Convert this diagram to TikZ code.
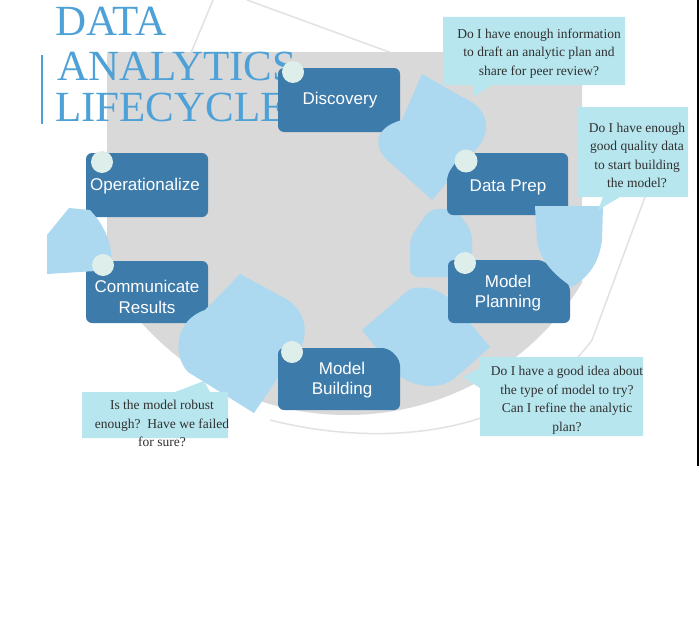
\documentclass[tikz,border=0pt]{standalone}
\usepackage{fontspec}
\setmainfont{Liberation Serif}
\newfontfamily\boxfont{Liberation Sans}
\definecolor{stageblue}{RGB}{61,123,171}
\definecolor{petalblue}{RGB}{172,216,240}
\definecolor{calloutcyan}{RGB}{184,230,238}
\definecolor{bggray}{RGB}{217,217,217}
\definecolor{titleblue}{RGB}{78,161,214}
\definecolor{dotcol}{RGB}{222,238,234}
\definecolor{faintgray}{RGB}{226,226,226}
\definecolor{qtext}{RGB}{48,48,48}
\tikzset{
  stagebox/.style={fill=stageblue, rounded corners=6pt},
  stagetext/.style={text=white, font=\boxfont\fontsize{17}{20.5}\selectfont, align=center, inner sep=0pt},
  petal/.style={fill=petalblue},
  callout/.style={fill=calloutcyan},
  qnote/.style={text=qtext, font=\fontsize{13.5}{18.5}\selectfont, align=center, inner sep=0pt},
  titletext/.style={text=titleblue, font=\fontsize{43}{43}\selectfont, anchor=base west, inner sep=0pt},
  dot/.style={fill=dotcol},
  faintline/.style={draw=faintgray, line width=1.5pt}
}
\begin{document}
\begin{tikzpicture}[x=1pt,y=-1pt]
\useasboundingbox (0,0) rectangle (700,618);
\fill[white] (0,0) rectangle (700,618);
% right black edge
\draw[black, line width=2pt] (698,0) -- (698,466);
% faint decorative lines
\draw[faintline] (213,0) -- (188,60);
\draw[faintline] (247,0) -- (400,56);
\draw[faintline] (645,197) -- (592,340) .. controls (520,438) and (380,448) .. (270,420);
% gray background
\begin{scope}
\clip (107,52) rectangle (582,430);
\fill[bggray] (347,140) circle[radius=275pt];
\end{scope}
% title
\draw[titleblue, line width=1.2pt] (42,55) -- (42,124);
\node[titletext] (t1) at (55,36) {DATA};
\node[titletext] (t2) at (57,80) {ANALYTICS};
\node[titletext] (t3) at (55,121) {LIFECYCLE};
% boxes behind petals
\fill[stagebox] (278,68) rectangle (400,132);
\fill[stagebox] (86,261) rectangle (208,323);
\fill[stagebox] (86,153) rectangle (208,217);
% petals
\fill[petal] (422,74) -- (462,97) .. controls (490,108) and (495,135) .. (470,155) -- (432,200) -- (393,165) .. controls (372,150) and (372,128) .. (402,120) -- cycle;
\fill[petal, rounded corners=8pt] (410,277) -- (410,238) -- (430,209) -- (456,209) -- (472,232) -- (472,277) -- cycle;
\fill[petal] (362,330) -- (410,289) .. controls (428,284) and (445,292) .. (455,305) -- (490,347) -- (455,378) .. controls (440,390) and (415,388) .. (398,375) -- cycle;
\fill[petal] (240,274) -- (288,300) .. controls (310,315) and (310,345) .. (290,360) -- (254,413) -- (188,372) .. controls (172,355) and (175,320) .. (205,310) -- cycle;
\fill[petal] (47,274) -- (47,235) -- (69,208) -- (90,210) .. controls (107,228) and (113,248) .. (112,270) -- cycle;
% boxes in front of petals
\fill[stagebox] (447,175) -- (462,153) -- (568,153) -- (568,215) -- (447,215) -- cycle;
\fill[stagebox] (448,260) -- (543,260) -- (570,285) -- (570,323) -- (448,323) -- cycle;
\fill[stagebox] (278,348) -- (388,348) -- (400,360) -- (400,410) -- (278,410) -- cycle;
% petal in front of Data Prep
\fill[petal] (535,206) -- (603,206) -- (602,240) .. controls (599,262) and (590,276) .. (572,287) .. controls (556,276) and (540,262) .. (537,240) -- cycle;
% stage labels
\node[stagetext] (disc) at (340,100) {Discovery};
\node[stagetext] (prep) at (508,187) {Data Prep};
\node[stagetext] (plan) at (508,293) {Model\\Planning};
\node[stagetext] (build) at (342,380) {Model\\Building};
\node[stagetext] (comm) at (147,297) {Communicate\\Results};
\node[stagetext] (oper) at (145,186) {Operationalize};
% dots
\fill[dot] (293,72) circle[radius=11pt];
\fill[dot] (466,161) circle[radius=11.5pt];
\fill[dot] (465,263) circle[radius=11pt];
\fill[dot] (292,352) circle[radius=11pt];
\fill[dot] (103,265) circle[radius=11pt];
\fill[dot] (102,162) circle[radius=11pt];
% callouts
\fill[callout] (443,17) -- (625,17) -- (625,85) -- (492,85) -- (473,97) -- (473,85) -- (443,85) -- cycle;
\fill[callout] (578,107) -- (688,107) -- (688,197) -- (620,197) -- (598,210) -- (603,197) -- (578,197) -- cycle;
\fill[callout] (480,357) -- (643,357) -- (643,436) -- (480,436) -- (480,388) -- (463,377) -- (480,368) -- cycle;
\fill[callout] (82,392) -- (175,392) -- (204,381) -- (210,392) -- (228,392) -- (228,438) -- (82,438) -- cycle;
\node[qnote] (q1) at (539,53.5) {Do I have enough information\\to draft an analytic plan and\\share for peer review?};
\node[qnote] (q2) at (637,155.5) {Do I have enough\\good quality data\\to start building\\the model?};
\node[qnote] (q3) at (567,400) {Do I have a good idea about\\the type of model to try?\\Can I refine the analytic\\plan?};
\node[qnote] (q4) at (162,423.5) {Is the model robust\\enough?~~Have we failed\\for sure?};
\end{tikzpicture}
\end{document}
